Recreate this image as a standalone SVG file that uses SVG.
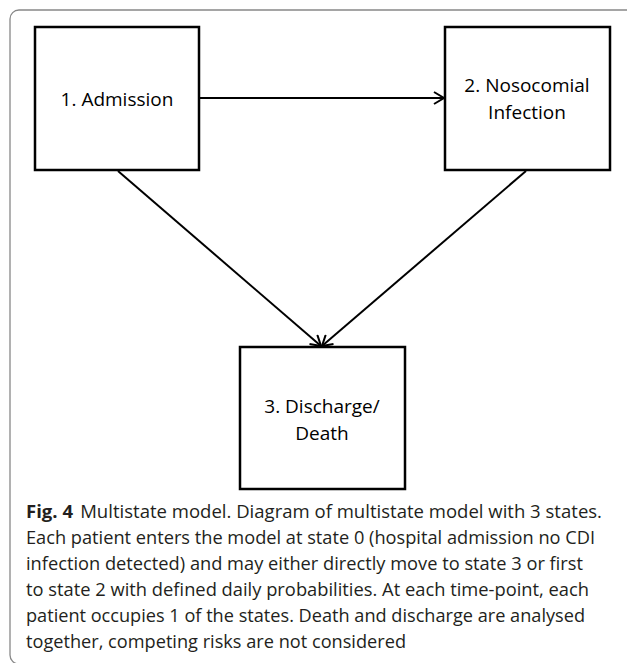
<svg xmlns="http://www.w3.org/2000/svg" width="627" height="663" viewBox="0 0 627 663">
<style>
.box{fill:#fff;stroke:#000;stroke-width:2.5}
.lbl{font-family:"Open Sans","Liberation Sans",sans-serif;font-size:19px;fill:#000;text-anchor:middle}
.cap{font-family:"Open Sans","Liberation Sans",sans-serif;font-size:18px;fill:#231f20}
.conn{stroke:#000;stroke-width:2;fill:none}
</style>
<defs>
<marker id="arr" markerWidth="14" markerHeight="14" refX="11" refY="7" orient="auto" markerUnits="userSpaceOnUse">
<path d="M1,1 L11,7 L1,13" fill="none" stroke="#000" stroke-width="2"/>
</marker>
</defs>
<rect x="10" y="10" width="640" height="654" rx="9" fill="#fff" stroke="#888" stroke-width="1.3"/>
<g id="connectors">
<line class="conn" x1="199" y1="98" x2="444" y2="98" marker-end="url(#arr)"/>
<line class="conn" x1="118" y1="171" x2="321" y2="346" marker-end="url(#arr)"/>
<line class="conn" x1="526" y1="171" x2="322" y2="346" marker-end="url(#arr)"/>
</g>
<g id="node1">
<rect class="box" x="35" y="27" width="164" height="143"/>
<text class="lbl" x="117" y="106">1. Admission</text>
</g>
<g id="node2">
<rect class="box" x="445" y="27" width="165" height="143"/>
<text class="lbl" x="527" y="92">2. Nosocomial</text>
<text class="lbl" x="527" y="119">Infection</text>
</g>
<g id="node3">
<rect class="box" x="240" y="347" width="165" height="142"/>
<text class="lbl" x="322" y="413">3. Discharge/</text>
<text class="lbl" x="322" y="440">Death</text>
</g>
<g id="caption">
<text class="cap" x="26" y="518" textLength="576" lengthAdjust="spacingAndGlyphs"><tspan font-weight="bold">Fig. 4</tspan><tspan dx="7">Multistate model. Diagram of multistate model with 3 states.</tspan></text>
<text class="cap" x="26" y="544" textLength="569" lengthAdjust="spacingAndGlyphs">Each patient enters the model at state 0 (hospital admission no CDI</text>
<text class="cap" x="26" y="570" textLength="557" lengthAdjust="spacingAndGlyphs">infection detected) and may either directly move to state 3 or first</text>
<text class="cap" x="26" y="596" textLength="563" lengthAdjust="spacingAndGlyphs">to state 2 with defined daily probabilities. At each time-point, each</text>
<text class="cap" x="26" y="622" textLength="559" lengthAdjust="spacingAndGlyphs">patient occupies 1 of the states. Death and discharge are analysed</text>
<text class="cap" x="26" y="648" textLength="380" lengthAdjust="spacingAndGlyphs">together, competing risks are not considered</text>
</g>
</svg>
